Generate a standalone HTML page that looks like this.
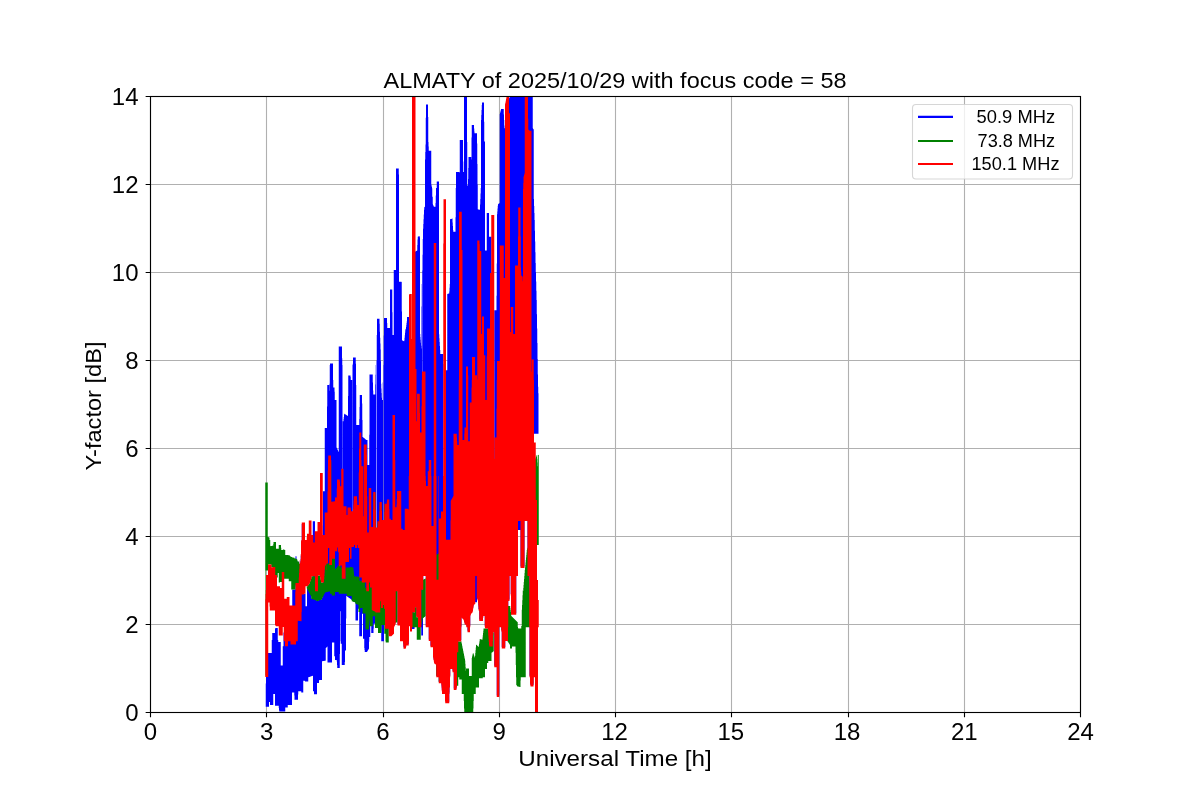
<!DOCTYPE html>
<html><head><meta charset="utf-8"><style>html,body{margin:0;padding:0;background:#fff;overflow:hidden}svg{display:block} text{-webkit-font-smoothing:antialiased}</style></head>
<body><svg width="1200" height="800" viewBox="0 0 1200 800"><rect x="0" y="0" width="1200" height="800" fill="#fff"/><path d="M150.5 96V712M266.5 96V712M383.5 96V712M499.5 96V712M615.5 96V712M731.5 96V712M848.5 96V712M964.5 96V712M1080.5 96V712M150 712.5H1080M150 624.5H1080M150 536.5H1080M150 448.5H1080M150 360.5H1080M150 272.5H1080M150 184.5H1080M150 96.5H1080" stroke="#b0b0b0" stroke-width="1.11" fill="none"/><path d="M265.75 683.4h0.25V706.7h-0.25ZM266 676.9h2V706.7h-2ZM268 653.1h1V706.7h-1ZM269 653.1h1V702h-1ZM270 653.1h1.75V705.1h-1.75ZM271.75 640h0.5V705.1h-0.5ZM272.25 633.1h1V705.1h-1ZM273.25 633.1h1.75V693.9h-1.75ZM275 629.1h0.25V705.8h-0.25ZM275.25 628.1h2.5V705.8h-2.5ZM277.75 640h0.5V705.8h-0.5ZM278.25 641.9h0.5V705.8h-0.5ZM278.75 641.9h0.25V708h-0.25ZM279 641.9h0.25V710.2h-0.25ZM279.25 641.9h1.5V711.4h-1.5ZM280.75 665.6h2V711.4h-2ZM282.75 646.2h0.75V711.4h-0.75ZM283.5 632.5h0.5V711.4h-0.5ZM284 641h1.25V711.4h-1.25ZM285.25 641h2.5V707.6h-2.5ZM287.75 641h4.25V705.1h-4.25ZM292 641h0.25V692.6h-0.25ZM292.25 589.4h2V692.6h-2ZM294.25 589.4h0.25V695.5h-0.25ZM294.5 589.4h1V699.8h-1ZM295.5 556.2h1V699.8h-1ZM296.5 560.5h0.25V699.8h-0.25ZM296.75 560.8h0.25V699.8h-0.25ZM297 561h0.25V699.8h-0.25ZM297.25 561.2h0.25V699.8h-0.25ZM297.5 563.1h0.5V699.8h-0.5ZM298 563.1h0.25V694.4h-0.25ZM298.25 563.1h0.75V691.2h-0.75ZM299 564.8h0.25V691.2h-0.25ZM299.25 565.2h0.5V691.2h-0.5ZM299.75 561.5h0.25V691.2h-0.25ZM300 564.3h0.25V691.2h-0.25ZM300.25 562.4h0.25V691.2h-0.25ZM300.5 560.4h0.25V691.2h-0.25ZM300.75 555.5h0.25V691.2h-0.25ZM301 541.5h0.25V691.2h-0.25ZM301.25 541.5h0.25V692.6h-0.25ZM301.5 542.8h0.25V692.6h-0.25ZM301.75 524h0.25V692.6h-0.25ZM302 593.8h1.25V692.6h-1.25ZM303.25 593.8h0.75V680.7h-0.75ZM304 593.8h0.75V680.8h-0.75ZM304.75 593.8h0.25V680.9h-0.25ZM305 593.8h0.5V681.4h-0.5ZM305.5 606.2h1.5V681.4h-1.5ZM307 587.8h0.25V681.4h-0.25ZM307.25 588.3h0.25V681.4h-0.25ZM307.5 588.8h0.25V681.4h-0.25ZM307.75 589.2h0.25V681.4h-0.25ZM308 589.7h0.25V681.4h-0.25ZM308.25 590h0.25V677.3h-0.25ZM308.5 590h0.25V677.2h-0.25ZM308.75 590h0.25V677.1h-0.25ZM309 590h0.25V677h-0.25ZM309.25 590h0.5V676.9h-0.5ZM309.75 590h0.25V676.8h-0.25ZM310 590h0.25V676.7h-0.25ZM310.25 590h0.25V676.6h-0.25ZM310.5 590h0.25V676.5h-0.25ZM310.75 590h0.25V676.4h-0.25ZM311 590h0.25V676.3h-0.25ZM311.25 595.9h0.25V676.3h-0.25ZM311.5 598.5h0.25V676.2h-0.25ZM311.75 598.6h0.25V676.1h-0.25ZM312 598.7h0.25V676h-0.25ZM312.25 598.7h0.25V675.9h-0.25ZM312.5 598.8h0.25V675.8h-0.25ZM312.75 521.2h0.25V675.8h-0.25ZM313 521.2h1V691.2h-1ZM314 521.2h1V694.2h-1ZM315 599.7h0.25V694.2h-0.25ZM315.25 599.8h0.25V694.2h-0.25ZM315.5 599.9h0.25V694.2h-0.25ZM315.75 600.1h0.25V694.2h-0.25ZM316 600.2h0.25V694.2h-0.25ZM316.25 600.3h0.25V694.2h-0.25ZM316.5 600.4h0.25V694.2h-0.25ZM316.75 600.6h0.25V694.2h-0.25ZM317 600.7h0.25V683.1h-0.25ZM317.25 600.8h0.5V683.1h-0.5ZM317.75 600.7h0.25V683.1h-0.25ZM318 600.6h0.25V683.1h-0.25ZM318.25 600.4h0.25V683.1h-0.25ZM318.5 600.3h0.25V683.1h-0.25ZM318.75 600.2h0.25V683.1h-0.25ZM319 600.1h0.25V680.4h-0.25ZM319.25 599.9h0.25V680.1h-0.25ZM319.5 599.8h0.25V680.1h-0.25ZM319.75 599.7h1.5V680.1h-1.5ZM321.25 599.2h0.25V680.1h-0.25ZM321.5 598.7h0.25V680.1h-0.25ZM321.75 598.2h0.25V680.1h-0.25ZM322 597.7h0.25V661.2h-0.25ZM322.25 597.2h0.25V661.2h-0.25ZM322.5 596.7h0.25V661.2h-0.25ZM322.75 525.6h0.25V661.1h-0.25ZM323 491.2h0.25V661.1h-0.25ZM323.25 491.2h0.5V661h-0.5ZM323.75 491.2h0.75V660.9h-0.75ZM324.5 491.2h0.25V660.8h-0.25ZM324.75 428.1h0.25V660.8h-0.25ZM325 428.1h0.5V660.7h-0.5ZM325.5 428.1h0.25V660.6h-0.25ZM325.75 428.1h0.25V648.1h-0.25ZM326 428.1h0.25V647.9h-0.25ZM326.25 428.1h0.25V647.6h-0.25ZM326.5 428.1h0.25V647.3h-0.25ZM326.75 428.1h0.25V647.1h-0.25ZM327 406.6h0.25V646.8h-0.25ZM327.25 385h0.25V646.5h-0.25ZM327.5 385h1.75V662.5h-1.75ZM329.25 390.8h0.25V662.5h-0.25ZM329.5 383.8h0.25V662.5h-0.25ZM329.75 365h0.25V662.5h-0.25ZM330 363.5h2V662.5h-2ZM332 363.5h1V642.5h-1ZM333 380h0.25V642.5h-0.25ZM333.25 387.5h1V642.5h-1ZM334.25 387.5h0.25V656.2h-0.25ZM334.5 391.7h0.25V656.2h-0.25ZM334.75 400h0.25V656.2h-0.25ZM335 400h1.5V660h-1.5ZM336.5 447.5h0.25V660h-0.25ZM336.75 448.1h0.25V661.6h-0.25ZM337 448.6h0.25V664.9h-0.25ZM337.25 449.2h0.25V668.1h-0.25ZM337.5 449.7h0.25V668.1h-0.25ZM337.75 450.3h0.25V668.1h-0.25ZM338 450.8h0.25V668.1h-0.25ZM338.25 451.4h0.25V668.1h-0.25ZM338.5 451.9h0.25V668.1h-0.25ZM338.75 346.5h1V668.1h-1ZM339.75 346.5h0.25V654.1h-0.25ZM340 346.5h0.25V641.2h-0.25ZM340.25 346.5h0.5V611.2h-0.5ZM340.75 346.5h1V643.8h-1ZM341.75 346.5h0.25V665h-0.25ZM342 358.2h0.25V665h-0.25ZM342.25 470.2h0.25V665h-0.25ZM342.5 365h0.25V665h-0.25ZM342.75 421.2h0.75V665h-0.75ZM343.5 419.1h0.25V665h-0.25ZM343.75 417h0.25V665h-0.25ZM344 414.8h0.25V665h-0.25ZM344.25 413.8h0.5V665h-0.5ZM344.75 414h0.25V662.1h-0.25ZM345 414.2h0.25V650.6h-0.25ZM345.25 414.3h0.25V650.6h-0.25ZM345.5 414.5h0.25V650.6h-0.25ZM345.75 414.7h0.25V650.6h-0.25ZM346 414.8h0.25V618.4h-0.25ZM346.25 415h0.25V595.9h-0.25ZM346.5 415.2h0.25V596.1h-0.25ZM346.75 415.3h0.25V596.3h-0.25ZM347 415.5h0.25V596.5h-0.25ZM347.25 415.7h0.25V596.7h-0.25ZM347.5 415.8h0.25V596.8h-0.25ZM347.75 416h0.25V597h-0.25ZM348 395.9h0.25V597.2h-0.25ZM348.25 375.6h0.25V597.4h-0.25ZM348.5 375.6h0.25V597.6h-0.25ZM348.75 375.6h0.25V597.7h-0.25ZM349 375.6h0.25V597.9h-0.25ZM349.25 375.6h0.25V598.1h-0.25ZM349.5 375.6h0.25V598.3h-0.25ZM349.75 375.6h0.25V598.5h-0.25ZM350 375.6h0.25V598.6h-0.25ZM350.25 375.6h0.25V598.8h-0.25ZM350.5 377.1h0.25V599h-0.25ZM350.75 380h0.25V599.2h-0.25ZM351 380h0.25V599.4h-0.25ZM351.25 380h0.25V599.5h-0.25ZM351.5 380h0.25V599.7h-0.25ZM351.75 380h0.25V599.9h-0.25ZM352 380h0.25V600.1h-0.25ZM352.25 365h0.25V600.3h-0.25ZM352.5 512.8h0.25V600.4h-0.25ZM352.75 363.8h0.25V600.6h-0.25ZM353 357.5h0.25V600.8h-0.25ZM353.25 357.5h0.25V601h-0.25ZM353.5 357.5h0.25V601.2h-0.25ZM353.75 357.5h0.25V601.3h-0.25ZM354 357.5h0.25V601.5h-0.25ZM354.25 357.5h0.25V601.7h-0.25ZM354.5 357.5h0.25V601.9h-0.25ZM354.75 357.5h0.25V602.1h-0.25ZM355 357.5h0.25V602.2h-0.25ZM355.25 357.5h0.25V602.4h-0.25ZM355.5 357.5h0.25V620.6h-0.25ZM355.75 363.8h0.25V620.6h-0.25ZM356 385h0.25V620.6h-0.25ZM356.25 425h1.75V620.6h-1.75ZM358 425h1.25V608.8h-1.25ZM359.25 419h0.25V636.2h-0.25ZM359.5 407h0.25V636.2h-0.25ZM359.75 395h2.25V636.2h-2.25ZM362 403.4h0.25V613.8h-0.25ZM362.25 420.1h0.25V613.8h-0.25ZM362.5 436.9h0.25V613.8h-0.25ZM362.75 437.1h0.25V613.8h-0.25ZM363 437.3h0.25V638.8h-0.25ZM363.25 437.5h0.25V638.8h-0.25ZM363.5 437.7h0.25V638.8h-0.25ZM363.75 437.9h0.25V638.8h-0.25ZM364 438.1h0.25V638.8h-0.25ZM364.25 438.3h0.25V648.1h-0.25ZM364.5 438.5h0.25V650h-0.25ZM364.75 438.8h0.25V651.9h-0.25ZM365 439h0.25V651.9h-0.25ZM365.25 439.2h0.25V651.9h-0.25ZM365.5 439.4h0.25V651.9h-0.25ZM365.75 439.6h0.25V651.9h-0.25ZM366 439.8h0.25V651.9h-0.25ZM366.25 440h0.75V651.9h-0.75ZM367 440h0.25V651.7h-0.25ZM367.25 440h0.25V651.2h-0.25ZM367.5 465h0.25V650.8h-0.25ZM367.75 465h0.25V650.4h-0.25ZM368 465h0.25V650h-0.25ZM368.25 465h0.25V649.6h-0.25ZM368.5 465h0.25V649.2h-0.25ZM368.75 465h0.25V648.8h-0.25ZM369 465h0.25V641.8h-0.25ZM369.25 434.8h0.25V636.9h-0.25ZM369.5 374.4h0.75V636.9h-0.75ZM370.25 374.4h1V608.8h-1ZM371.25 374.4h1.5V633.1h-1.5ZM372.75 382.4h0.25V633.1h-0.25ZM373 390.4h0.25V633.1h-0.25ZM373.25 394.4h0.25V633.1h-0.25ZM373.5 394.4h0.25V628.4h-0.25ZM373.75 394.4h1.5V623.8h-1.5ZM375.25 384.6h0.25V615h-0.25ZM375.5 374.8h0.25V615h-0.25ZM375.75 365h0.25V615h-0.25ZM376 529h0.5V615h-0.5ZM376.5 360.6h0.25V615h-0.25ZM376.75 335h0.25V615h-0.25ZM377 318.8h2.5V615h-2.5ZM379.5 323.8h0.25V615h-0.25ZM379.75 331.7h0.25V615h-0.25ZM380 337.7h0.25V615h-0.25ZM380.25 343.6h0.25V615h-0.25ZM380.5 349.5h0.25V615h-0.25ZM380.75 361.2h0.25V615h-0.25ZM381 383.8h0.25V615h-0.25ZM381.25 388.4h0.25V641.2h-0.25ZM381.5 393h0.25V641.2h-0.25ZM381.75 397.7h0.25V641.2h-0.25ZM382 400h0.75V641.2h-0.75ZM382.75 382.5h0.25V641.2h-0.25ZM383 365h0.25V641.2h-0.25ZM383.25 521.5h0.5V641.2h-0.5ZM383.75 335.4h0.25V641.2h-0.25ZM384 318.1h1V607.2h-1ZM385 318.1h2V627.2h-2ZM387 323.1h0.25V627.2h-0.25ZM387.25 328.1h1.5V627.2h-1.5ZM388.75 328.1h1.25V634.8h-1.25ZM390 289.4h1.5V634.8h-1.5ZM391.5 289.4h0.25V634.5h-0.25ZM391.75 289.4h0.25V634.2h-0.25ZM392 289.4h0.25V634h-0.25ZM392.25 312.2h0.25V633.8h-0.25ZM392.5 335h0.25V633.5h-0.25ZM392.75 335h0.25V633.2h-0.25ZM393 335h0.25V633h-0.25ZM393.25 335h0.25V632.8h-0.25ZM393.5 335h0.25V632.5h-0.25ZM393.75 270h0.25V632.2h-0.25ZM394 270h0.25V625.7h-0.25ZM394.25 270h0.25V625.1h-0.25ZM394.5 270h0.25V624.6h-0.25ZM394.75 270h0.25V624h-0.25ZM395 270h0.25V623.4h-0.25ZM395.25 270h0.25V622.8h-0.25ZM395.5 270h0.25V622.2h-0.25ZM395.75 270h0.25V589.8h-0.25ZM396 168.5h1.5V589.8h-1.5ZM397.5 168.5h1.25V624.1h-1.25ZM398.75 174.5h0.25V624.1h-0.25ZM399 281.8h1V624.1h-1ZM400 281.8h1.5V639.8h-1.5ZM401.5 281.9h0.25V639.8h-0.25ZM401.75 311.6h0.25V639.8h-0.25ZM402 340.3h0.25V639.8h-0.25ZM402.25 340.4h0.25V639.8h-0.25ZM402.5 340.6h0.25V639.8h-0.25ZM402.75 340.7h0.25V639.8h-0.25ZM403 340.8h0.25V641.2h-0.25ZM403.25 340.9h0.25V644.2h-0.25ZM403.5 341.1h0.25V647.2h-0.25ZM403.75 341.2h0.5V647.2h-0.5ZM404.25 340.2h0.25V647.2h-0.25ZM404.5 337.8h0.25V647.2h-0.25ZM404.75 335.2h0.25V647.2h-0.25ZM405 332.8h0.25V647.2h-0.25ZM405.25 330.2h0.25V647.2h-0.25ZM405.5 329h0.25V647.2h-0.25ZM405.75 328.8h0.25V646.6h-0.25ZM406 326.9h0.25V645.4h-0.25ZM406.25 325h0.25V644.1h-0.25ZM406.5 323.1h0.25V644.1h-0.25ZM406.75 321.2h0.25V644.1h-0.25ZM407 317.1h1.75V644.1h-1.75ZM408.75 317.1h0.25V639.8h-0.25ZM409 317.1h0.25V624.8h-0.25ZM411.75 340.5h0.25V629.1h-0.25ZM412 98.5h1.5V629.1h-1.5ZM413.5 617.2h1V629.1h-1ZM414.5 617.2h0.5V627.2h-0.5ZM415 251.8h0.25V610.8h-0.25ZM415.25 251.6h0.25V605.8h-0.25ZM415.5 251.4h0.25V605.8h-0.25ZM415.75 251.3h0.25V605.8h-0.25ZM416 251.1h0.25V605.8h-0.25ZM416.25 251h0.25V615.8h-0.25ZM416.5 250.8h0.25V615.8h-0.25ZM416.75 250.7h0.25V615.8h-0.25ZM417 250.5h0.25V615.8h-0.25ZM417.25 245h0.25V615.8h-0.25ZM417.5 239.5h0.25V615.8h-0.25ZM417.75 236.7h0.25V615.8h-0.25ZM418 236.6h0.25V625.8h-0.25ZM418.25 236.5h0.25V625.8h-0.25ZM418.5 236.4h0.25V625.8h-0.25ZM418.75 236.3h0.25V625.8h-0.25ZM419 236.2h0.25V625.8h-0.25ZM419.25 236.1h0.25V625.8h-0.25ZM419.5 236.5h0.25V625.8h-0.25ZM419.75 237.4h0.25V625.8h-0.25ZM420 334h0.25V625.8h-0.25ZM420.25 336.9h0.25V625.8h-0.25ZM420.5 339.8h0.25V625.8h-0.25ZM420.75 342.8h0.25V627.2h-0.25ZM421 345.7h0.25V627.2h-0.25ZM421.25 348.6h0.25V635.4h-0.25ZM421.5 306.5h0.25V635.4h-0.25ZM421.75 284h0.25V635.4h-0.25ZM422 606.6h0.25V635.4h-0.25ZM422.25 270.5h0.25V635.4h-0.25ZM422.5 254.8h0.25V635.4h-0.25ZM422.75 239h0.25V635.4h-0.25ZM423 228.8h0.25V588.2h-0.25ZM423.25 224h0.25V574.5h-0.25ZM423.5 219.2h0.25V574.5h-0.25ZM423.75 214.5h0.25V574.5h-0.25ZM424 209.8h0.25V574.5h-0.25ZM424.25 207.2h0.25V574.5h-0.25ZM424.5 207h0.25V574.5h-0.25ZM424.75 206.8h0.25V574.5h-0.25ZM425 159.5h0.25V574.5h-0.25ZM425.25 152h0.25V574.5h-0.25ZM425.5 144.5h0.25V574.5h-0.25ZM425.75 117.8h0.25V625.8h-0.25ZM426 104.5h2V625.8h-2ZM428 117h0.25V625.8h-0.25ZM428.25 142h0.25V625.8h-0.25ZM428.5 146.4h0.25V625.8h-0.25ZM428.75 150.8h1.75V639.5h-1.75ZM430.5 150.8h0.75V645.8h-0.75ZM431.25 184.5h0.25V645.8h-0.25ZM431.5 185.8h0.25V645.8h-0.25ZM431.75 187h0.25V645.8h-0.25ZM432 188.2h0.25V645.8h-0.25ZM432.25 196.8h0.5V645.8h-0.5ZM432.75 204.2h0.25V645.8h-0.25ZM433 204.9h0.25V655.8h-0.25ZM433.25 205.5h0.25V657.1h-0.25ZM433.5 206.1h0.25V658.5h-0.25ZM433.75 206.8h0.25V659.9h-0.25ZM434 206.8h0.25V661.3h-0.25ZM434.25 206.8h0.25V662.1h-0.25ZM434.5 206.8h0.25V662.2h-0.25ZM434.75 206.8h0.25V662.4h-0.25ZM435 206.8h0.25V662.6h-0.25ZM435.25 206.8h0.25V662.8h-0.25ZM435.5 203h0.25V662.9h-0.25ZM435.75 195.5h0.25V663.1h-0.25ZM436 188h0.25V663.2h-0.25ZM436.25 188h0.5V675.8h-0.5ZM436.75 181.4h2V675.8h-2ZM438.75 181.4h0.25V681.8h-0.25ZM439 334.2h0.25V681.8h-0.25ZM439.25 338.2h0.25V681.8h-0.25ZM439.5 342.1h0.25V681.8h-0.25ZM439.75 346.1h0.25V681.8h-0.25ZM440 350h0.25V681.8h-0.25ZM440.25 354h1V681.8h-1ZM441.25 354h0.25V683.2h-0.25ZM441.5 354h0.25V686.2h-0.25ZM441.75 354h0.25V689.8h-0.25ZM442 354h1.25V692.4h-1.25ZM443.25 364h0.25V692.4h-0.25ZM446 370.2h1.25V701.8h-1.25ZM447.25 294h0.25V701.8h-0.25ZM447.5 293.9h0.25V701.8h-0.25ZM447.75 293.8h0.5V701.8h-0.5ZM448.25 293.7h0.25V701.8h-0.25ZM448.5 293.6h0.25V701.8h-0.25ZM448.75 293.5h0.25V701.8h-0.25ZM449 293.4h0.25V701.8h-0.25ZM449.25 291.5h0.25V692.4h-0.25ZM449.5 287.8h0.25V686.1h-0.25ZM449.75 284h0.25V686.1h-0.25ZM450 219.2h0.25V675.8h-0.25ZM450.25 219.2h0.25V667.6h-0.25ZM450.5 219.1h0.25V667.6h-0.25ZM450.75 219h0.25V667.6h-0.25ZM451 218.9h0.5V667.6h-0.5ZM451.5 218.8h0.25V667.6h-0.25ZM451.75 218.7h0.25V667.6h-0.25ZM452 218.6h0.5V667.6h-0.5ZM452.5 222.4h0.25V670.8h-0.25ZM452.75 226.1h0.25V670.8h-0.25ZM453 229.9h0.25V670.8h-0.25ZM453.25 231.8h0.5V670.8h-0.5ZM453.75 231.8h1.75V688.6h-1.75ZM455.5 217.2h0.25V688.6h-0.25ZM455.75 188h0.25V688.6h-0.25ZM456 172h0.5V688.6h-0.5ZM456.5 172h0.25V686.9h-0.25ZM456.75 172h0.25V685.1h-0.25ZM457 172h1.25V650.8h-1.25ZM458.25 172h1.25V640.1h-1.25ZM459.5 172.8h0.25V640.1h-0.25ZM459.75 140.1h1.5V640.1h-1.5ZM461.25 140.1h0.25V625.8h-0.25ZM461.5 140.1h0.25V616.1h-0.25ZM461.75 140.1h0.25V616.4h-0.25ZM462 140.1h0.25V616.7h-0.25ZM462.25 140.1h0.25V616.9h-0.25ZM462.5 140.1h0.25V617.2h-0.25ZM462.75 140.1h0.25V617.5h-0.25ZM463 161.4h0.25V617.7h-0.25ZM463.25 172h0.25V618h-0.25ZM463.5 172h0.25V618.2h-0.25ZM463.75 172h0.25V619.2h-0.25ZM464 97h0.25V620.2h-0.25ZM464.25 97h0.25V621.2h-0.25ZM464.5 97h0.25V622.2h-0.25ZM464.75 97h1.5V623.2h-1.5ZM466.25 97h0.75V625.8h-0.75ZM467 142h0.25V625.8h-0.25ZM467.25 186.1h0.25V625.8h-0.25ZM467.5 185.4h0.25V630.8h-0.25ZM467.75 184.8h0.25V630.8h-0.25ZM468 179h0.25V630.8h-0.25ZM468.25 168h0.25V630.8h-0.25ZM468.5 157h1.5V630.8h-1.5ZM470 157h0.25V625.8h-0.25ZM470.25 157h0.25V614.2h-0.25ZM470.5 157h0.25V613.7h-0.25ZM470.75 157h0.25V613.1h-0.25ZM471 157h0.25V612.6h-0.25ZM471.25 159.5h0.25V612h-0.25ZM471.5 137.4h0.25V611.8h-0.25ZM471.75 125.1h0.25V611.5h-0.25ZM472 125.1h0.25V611.2h-0.25ZM472.25 125.1h0.25V611h-0.25ZM472.5 125.1h0.25V610.8h-0.25ZM472.75 125.1h0.25V609.2h-0.25ZM473 125.1h0.25V607.8h-0.25ZM473.25 125.1h0.25V606.2h-0.25ZM473.5 125.1h0.25V604.8h-0.25ZM473.75 125.1h0.25V603.2h-0.25ZM474 128.4h0.25V603.1h-0.25ZM474.25 131.6h0.25V603h-0.25ZM474.5 133.2h0.25V602.9h-0.25ZM474.75 133.2h0.25V602.8h-0.25ZM475 133.2h2V602.2h-2ZM477 143.5h0.25V597.1h-0.25ZM477.25 164h0.25V597.8h-0.25ZM477.5 184.5h0.25V598.5h-0.25ZM477.75 209.3h0.25V599.2h-0.25ZM478 209.4h0.25V601.4h-0.25ZM478.25 209.4h0.25V605.1h-0.25ZM478.5 209.5h0.25V608.9h-0.25ZM478.75 209.6h0.25V609.1h-0.25ZM479 209.6h0.25V609.4h-0.25ZM479.25 209.7h0.25V619.5h-0.25ZM479.5 209.8h0.5V619.5h-0.5ZM480 204.4h0.25V619.5h-0.25ZM480.25 198.9h0.25V619.5h-0.25ZM480.5 193.5h0.25V619.5h-0.25ZM480.75 188h0.25V619.5h-0.25ZM481 120.1h0.25V619.5h-0.25ZM481.25 115.1h0.25V619.5h-0.25ZM481.5 110.1h0.25V619.5h-0.25ZM481.75 105.1h0.25V619.5h-0.25ZM482 102.6h1V619.5h-1ZM483 102.6h0.25V616.5h-0.25ZM483.25 102.6h0.75V614.5h-0.75ZM484 121.7h0.25V614.5h-0.25ZM484.25 141h0.25V614.5h-0.25ZM484.5 141.5h0.25V614.5h-0.25ZM484.75 142h0.25V625.8h-0.25ZM485 250.5h1.75V627h-1.75ZM486.75 213h1.25V627h-1.25ZM488 213h0.25V630.8h-0.25ZM488.25 213h0.25V633.9h-0.25ZM488.5 213h0.25V637.1h-0.25ZM488.75 213h0.25V640.3h-0.25ZM489 236.8h0.25V643.5h-0.25ZM489.25 236.8h2.25V645.1h-2.25ZM494.25 310.2h2.25V665.8h-2.25ZM496.5 295.7h0.25V665.8h-0.25ZM496.75 263.4h0.25V695.5h-0.25ZM497 214.2h0.25V695.5h-0.25ZM497.25 211.4h0.25V695.5h-0.25ZM497.5 208.5h0.25V695.5h-0.25ZM497.75 205.7h0.25V695.5h-0.25ZM498 204.2h0.25V695.5h-0.25ZM498.25 204h0.25V695.5h-0.25ZM498.5 203.8h0.25V695.5h-0.25ZM498.75 203.6h0.25V695.5h-0.25ZM499 203.4h0.25V695.5h-0.25ZM499.25 203.2h0.25V625.8h-0.25ZM499.5 203h0.25V625.8h-0.25ZM499.75 113.9h0.25V625.8h-0.25ZM500 112.9h0.25V625.8h-0.25ZM500.25 111.9h0.25V625.8h-0.25ZM500.5 110.9h0.25V625.8h-0.25ZM500.75 109.9h0.25V625.8h-0.25ZM501 108.9h0.25V625.8h-0.25ZM501.25 108.9h0.5V630.1h-0.5ZM501.75 108.9h2V647h-2ZM503.75 114.4h0.25V647h-0.25ZM504 119.9h0.25V647h-0.25ZM504.25 125.5h0.25V647h-0.25ZM504.5 128.2h0.5V647h-0.5ZM505 116.4h0.25V647h-0.25ZM505.25 104.5h0.25V639.5h-0.25ZM505.5 104.1h0.25V639.5h-0.25ZM505.75 103.7h0.25V639.5h-0.25ZM506 103.2h0.25V639.5h-0.25ZM506.25 102.8h0.25V639.5h-0.25ZM506.5 102.4h0.25V639.5h-0.25ZM506.75 102h0.25V639.5h-0.25ZM507 101.6h0.25V639.5h-0.25ZM507.25 101.2h0.25V639.5h-0.25ZM507.5 100.8h0.25V639.5h-0.25ZM507.75 100.3h0.25V639.5h-0.25ZM508 99.9h0.25V625.8h-0.25ZM508.25 99.5h0.25V599.5h-0.25ZM508.5 99.1h0.25V599.5h-0.25ZM508.75 98.7h0.25V599.5h-0.25ZM509 98.2h0.25V599.5h-0.25ZM509.25 97.8h0.25V599.5h-0.25ZM509.5 97.4h0.25V574.5h-0.25ZM509.75 97h1V574.5h-1ZM510.75 97h0.25V593.9h-0.25ZM511 97h5.25V613.2h-5.25ZM516.25 97h1.75V574.5h-1.75ZM518 97h2.5V530h-2.5ZM520.5 97h4V566.5h-4ZM524.5 97h3V519.5h-3ZM527.5 97h1.75V574.5h-1.75ZM529.25 97h0.25V625.8h-0.25ZM529.5 97h0.5V675.8h-0.5ZM530 97h0.25V681.9h-0.25ZM530.25 97h0.25V683.9h-0.25ZM530.5 97h2.25V684.9h-2.25ZM532.75 128.2h0.25V684.9h-0.25ZM533 128.7h0.25V684.9h-0.25ZM533.25 129.1h0.25V684.9h-0.25ZM533.5 129.5h0.25V433.8h-0.25ZM533.75 199h0.25V433.8h-0.25ZM534 206h0.25V433.8h-0.25ZM534.25 213h0.25V433.8h-0.25ZM534.5 220h0.25V433.8h-0.25ZM534.75 230.8h0.25V433.8h-0.25ZM535 241.5h0.25V433.8h-0.25ZM535.25 252.2h0.25V433.8h-0.25ZM535.5 263h0.25V433.8h-0.25ZM535.75 272.2h0.25V433.8h-0.25ZM536 281.5h0.25V433.8h-0.25ZM536.25 290.8h0.25V433.8h-0.25ZM536.5 300h0.25V433.8h-0.25ZM536.75 314.3h0.25V433.8h-0.25ZM537 328.6h0.25V433.8h-0.25ZM537.25 343.1h0.25V433.8h-0.25ZM537.5 358.9h0.25V433.8h-0.25ZM537.75 374.6h0.25V433.8h-0.25ZM538 386.7h0.25V433.8h-0.25ZM538.25 393.3h0.25V433.8h-0.25Z" fill="#0000ff"/><path d="M265.25 482.5h0.5V675.4h-0.5ZM265.75 482.5h2V570.6h-2ZM267.75 536.9h0.25V570.6h-0.25ZM268 537h0.25V570.6h-0.25ZM268.25 537.1h0.25V564.4h-0.25ZM268.5 537.2h0.25V564.4h-0.25ZM268.75 537.3h0.25V564.4h-0.25ZM269 537.4h0.25V564.4h-0.25ZM269.25 537.5h0.25V564.4h-0.25ZM269.5 540h0.75V564.4h-0.75ZM270.25 546.2h0.25V564.4h-0.25ZM270.5 546.1h0.5V564.4h-0.5ZM271 546h0.25V564.4h-0.25ZM271.25 546h0.25V567.5h-0.25ZM271.5 545.9h0.5V567.5h-0.5ZM272 545.8h0.75V567.5h-0.75ZM272.75 545.7h0.5V566.9h-0.5ZM273.25 544.1h0.25V566.9h-0.25ZM273.5 541.9h1.5V566.9h-1.5ZM275 541.9h0.25V576.3h-0.25ZM275.25 541.9h0.25V576.4h-0.25ZM275.5 541.9h0.25V576.6h-0.25ZM275.75 541.9h0.25V576.7h-0.25ZM276 548.8h0.25V576.8h-0.25ZM276.25 548.8h0.25V577h-0.25ZM276.5 548.8h0.25V577.1h-0.25ZM276.75 548.8h0.25V577.2h-0.25ZM277 548.8h0.25V577.4h-0.25ZM277.25 548.8h0.5V577.5h-0.5ZM277.75 548.8h1V573.1h-1ZM278.75 545h1.25V582.5h-1.25ZM280 545h1V581.9h-1ZM281 547.7h0.25V581.9h-0.25ZM281.25 550h0.75V581.9h-0.75ZM282 550h0.75V571.9h-0.75ZM282.75 549.7h0.25V571.9h-0.25ZM283 549.4h0.5V571.9h-0.5ZM283.5 549.5h0.25V571.9h-0.25ZM283.75 549.6h0.25V571.9h-0.25ZM284 549.7h0.25V578.8h-0.25ZM284.25 549.8h0.5V578.8h-0.5ZM284.75 549.9h0.25V578.8h-0.25ZM285 550h0.25V578.8h-0.25ZM285.25 555h2.75V578.8h-2.75ZM288 555.1h0.25V578.8h-0.25ZM288.25 555.3h0.5V578.8h-0.5ZM288.75 555.3h1V581.2h-1ZM289.75 555.9h0.25V581.2h-0.25ZM290 556.2h0.25V581.2h-0.25ZM290.25 556.4h0.25V581.2h-0.25ZM290.5 556.5h0.25V581.2h-0.25ZM290.75 556.6h0.25V581.2h-0.25ZM291 556.8h0.25V581.2h-0.25ZM291.25 556.9h0.25V589.4h-0.25ZM291.5 557h0.25V589.4h-0.25ZM291.75 557.1h0.25V589.4h-0.25ZM292 557.2h0.25V589.4h-0.25ZM292.25 557.4h0.25V589.4h-0.25ZM292.5 557.5h0.25V589.4h-0.25ZM292.75 557.6h0.25V589.4h-0.25ZM293 557.8h0.25V589.4h-0.25ZM293.25 557.7h0.25V589.4h-0.25ZM293.5 557.6h0.25V589.4h-0.25ZM293.75 557.5h0.5V589.4h-0.5ZM294.25 558.2h0.25V589.4h-0.25ZM294.5 558.3h0.25V589.4h-0.25ZM294.75 558.4h0.5V589.4h-0.5ZM295.25 558.5h0.25V589.4h-0.25ZM295.5 558.6h0.25V586.4h-0.25ZM295.75 558.6h0.25V584.4h-0.25ZM296 558.7h0.25V584.4h-0.25ZM296.25 558.8h0.25V584.4h-0.25ZM296.5 559h0.25V584.4h-0.25ZM296.75 559.2h0.25V584.4h-0.25ZM297 559.5h0.25V584.4h-0.25ZM297.25 559.8h0.25V584.4h-0.25ZM297.5 561.6h1.5V584.4h-1.5ZM299 563.3h0.25V576.2h-0.25ZM299.25 563.8h0.75V576.2h-0.75ZM306.75 586.5h0.25V588.4h-0.25ZM307 586.4h0.25V588.8h-0.25ZM307.25 586.2h0.25V589.3h-0.25ZM307.5 585.9h0.25V589.8h-0.25ZM307.75 585.6h0.25V590.2h-0.25ZM308 585.2h0.25V590.7h-0.25ZM308.25 584.9h0.25V591.1h-0.25ZM308.5 584.6h0.25V591.6h-0.25ZM308.75 584.2h0.25V592.1h-0.25ZM309 583.9h0.25V592.5h-0.25ZM309.25 583.4h0.25V593h-0.25ZM309.5 582.8h0.25V593.5h-0.25ZM309.75 582.1h0.25V593.9h-0.25ZM310 581.4h0.25V594.4h-0.25ZM310.25 580.8h0.25V594.9h-0.25ZM310.5 580.1h0.25V595.3h-0.25ZM310.75 579.4h0.25V595.8h-0.25ZM311 578.8h0.25V596.2h-0.25ZM311.25 576.2h0.25V598.8h-0.25ZM311.5 576.2h0.25V598.9h-0.25ZM311.75 576.2h0.25V599h-0.25ZM312 576.2h0.5V599.1h-0.5ZM312.5 576.2h0.25V599.2h-0.25ZM312.75 576.2h0.25V599.3h-0.25ZM313 576.2h0.25V599.4h-0.25ZM313.25 576.2h0.25V599.5h-0.25ZM313.5 576.2h0.25V599.6h-0.25ZM313.75 576.2h0.5V599.7h-0.5ZM314.25 576.2h0.25V599.8h-0.25ZM314.5 576.2h0.25V599.9h-0.25ZM314.75 576.2h0.25V600h-0.25ZM315 576.2h0.25V600.1h-0.25ZM315.25 578.3h0.25V600.2h-0.25ZM315.5 577.9h0.25V600.4h-0.25ZM315.75 577.6h0.25V600.5h-0.25ZM316 577.3h0.25V600.6h-0.25ZM316.25 576.9h0.25V600.8h-0.25ZM316.5 576.6h0.25V600.9h-0.25ZM316.75 576.3h0.25V601h-0.25ZM317 576h0.25V601.1h-0.25ZM317.25 575.6h0.5V601.2h-0.5ZM317.75 575.6h0.25V601.1h-0.25ZM318 575.6h0.25V601h-0.25ZM318.25 575.6h0.25V600.9h-0.25ZM318.5 575.6h0.25V600.8h-0.25ZM318.75 575.6h0.25V600.6h-0.25ZM319 575.6h0.25V600.5h-0.25ZM319.25 575.6h0.25V600.4h-0.25ZM319.5 575.6h0.25V600.2h-0.25ZM319.75 575.6h0.25V600.1h-0.25ZM320 575.6h0.25V600h-0.25ZM320.25 577h0.25V600h-0.25ZM320.5 578.4h0.25V600h-0.25ZM320.75 579.8h0.25V600h-0.25ZM321 581.1h0.25V600h-0.25ZM321.25 582.5h0.25V600h-0.25ZM321.5 582.5h0.25V599.5h-0.25ZM321.75 582.5h0.25V599h-0.25ZM322 582.5h0.25V598.5h-0.25ZM322.25 582.5h0.25V598h-0.25ZM322.5 582.5h0.25V597.5h-0.25ZM322.75 582.5h0.25V597h-0.25ZM323 582.5h0.25V596.5h-0.25ZM323.25 582.5h0.25V596h-0.25ZM323.5 582.5h0.25V595.5h-0.25ZM323.75 579.2h0.25V595h-0.25ZM324 576h0.25V594.5h-0.25ZM324.25 572.8h0.25V594h-0.25ZM324.5 569.5h0.25V593.5h-0.25ZM324.75 566.2h0.25V593h-0.25ZM325 565.8h0.25V592.5h-0.25ZM325.25 565.2h0.25V592.4h-0.25ZM325.5 564.8h0.25V592.4h-0.25ZM325.75 564.2h0.25V592.3h-0.25ZM326 563.8h0.25V592.2h-0.25ZM326.25 563.7h0.25V592.2h-0.25ZM326.5 563.7h0.25V592.1h-0.25ZM326.75 563.6h0.25V592.1h-0.25ZM327 563.6h0.25V592h-0.25ZM327.25 563.5h0.5V591.9h-0.5ZM327.75 563.5h0.25V591.8h-0.25ZM328 563.4h0.25V591.8h-0.25ZM328.25 563.4h0.25V591.7h-0.25ZM328.5 563.3h0.5V591.6h-0.5ZM329 563.2h0.25V591.5h-0.25ZM329.25 563.2h0.5V591.4h-0.5ZM329.75 563.1h0.25V591.3h-0.25ZM330 556.2h0.25V593.8h-0.25ZM330.25 457.1h0.75V593.8h-0.75ZM331 461.5h0.25V593.8h-0.25ZM331.25 503.3h0.5V593.8h-0.5ZM331.75 503.2h0.75V595.6h-0.75ZM332.5 503.1h0.5V595.6h-0.5ZM333 503h0.75V595.6h-0.75ZM333.75 502.9h0.5V595.6h-0.5ZM334.25 502.8h0.75V595.6h-0.75ZM335 569.1h0.25V591.9h-0.25ZM335.25 568.9h0.25V591.9h-0.25ZM335.5 568.6h0.25V591.9h-0.25ZM335.75 568.4h0.25V591.9h-0.25ZM336 568.1h0.25V591.9h-0.25ZM336.25 567.9h0.25V591.9h-0.25ZM336.5 567.6h0.25V591.9h-0.25ZM336.75 567.4h0.25V591.9h-0.25ZM337 567.1h0.25V591.9h-0.25ZM337.25 566.9h0.25V591.9h-0.25ZM337.5 566.5h0.25V591.9h-0.25ZM337.75 566.1h0.25V591.9h-0.25ZM338 565.8h0.25V591.9h-0.25ZM338.25 565.4h0.25V591.9h-0.25ZM338.5 565h0.25V591.9h-0.25ZM338.75 565h0.25V593.8h-0.25ZM339 565.1h0.25V593.8h-0.25ZM339.25 565.2h0.25V593.8h-0.25ZM339.5 565.4h0.25V593.8h-0.25ZM339.75 565.5h0.25V593.8h-0.25ZM340 565.6h0.25V593.8h-0.25ZM340.25 566h0.25V593.8h-0.25ZM340.5 566.5h0.25V593.8h-0.25ZM340.75 566.9h0.25V593.8h-0.25ZM341 567.3h0.25V593.8h-0.25ZM341.25 567.7h0.25V593.8h-0.25ZM341.5 568.1h0.25V593.8h-0.25ZM341.75 568.5h0.25V593.8h-0.25ZM342 578.8h3.5V593.8h-3.5ZM345.5 567.5h1.25V593.8h-1.25ZM346.75 567.5h3.25V595.9h-3.25ZM350 566.9h0.5V595.9h-0.5ZM350.5 567h0.5V595.9h-0.5ZM351 567.1h0.5V595.9h-0.5ZM351.5 567.2h0.25V595.9h-0.25ZM351.75 567.2h0.25V601.2h-0.25ZM352 567.3h0.25V601.3h-0.25ZM352.25 567.3h0.25V601.4h-0.25ZM352.5 567.4h0.25V601.5h-0.25ZM352.75 567.4h0.25V601.6h-0.25ZM353 567.5h0.25V601.7h-0.25ZM353.25 568.5h0.25V601.8h-0.25ZM353.5 570.5h0.25V601.9h-0.25ZM353.75 572.5h0.25V601.9h-0.25ZM354 575.5h0.25V602h-0.25ZM354.25 576.3h0.25V602.1h-0.25ZM354.5 576.3h0.25V602.2h-0.25ZM354.75 576.3h0.25V602.3h-0.25ZM355 576.4h0.25V602.4h-0.25ZM355.25 576.4h0.25V602.5h-0.25ZM355.5 576.4h0.25V603.8h-0.25ZM355.75 576.4h0.25V603.9h-0.25ZM356 576.5h0.25V604h-0.25ZM356.25 576.5h0.25V604.1h-0.25ZM356.5 576.5h0.25V604.2h-0.25ZM356.75 576.6h0.25V604.3h-0.25ZM357 576.6h0.25V604.4h-0.25ZM357.25 576.6h0.25V604.5h-0.25ZM357.5 576.7h0.25V604.6h-0.25ZM357.75 576.7h0.25V604.7h-0.25ZM358 576.7h0.25V604.8h-0.25ZM358.25 576.7h0.25V604.9h-0.25ZM358.5 576.8h0.75V611.9h-0.75ZM359.25 576.9h0.25V611.9h-0.25ZM359.5 580.6h0.25V611.9h-0.25ZM359.75 580.7h0.5V611.9h-0.5ZM360.25 580.7h0.5V608.1h-0.5ZM360.75 580.8h0.75V608.1h-0.75ZM361.5 580.9h1V608.1h-1ZM362.5 581h0.75V613.4h-0.75ZM363.25 581.1h1V613.4h-1ZM364.25 581.2h1V613.4h-1ZM365.25 588.1h0.25V613.4h-0.25ZM365.5 588.1h0.75V629.4h-0.75ZM366.25 587.7h0.25V629.4h-0.25ZM366.5 587.2h0.25V629.4h-0.25ZM366.75 586.8h0.25V629.4h-0.25ZM367 586.4h0.25V629.4h-0.25ZM367.25 585.9h0.25V629.4h-0.25ZM367.5 585.5h0.25V629.4h-0.25ZM367.75 585.1h0.25V629.4h-0.25ZM368 584.6h0.25V629.4h-0.25ZM368.25 584.2h0.25V629.4h-0.25ZM368.5 583.8h0.25V629.4h-0.25ZM368.75 582.5h0.25V629.4h-0.25ZM369 582.5h0.25V618.8h-0.25ZM369.25 582.5h0.25V621.2h-0.25ZM369.5 582.5h0.25V623.8h-0.25ZM369.75 582.5h0.5V626.2h-0.5ZM370.25 587.5h2.25V626.2h-2.25ZM372.5 528.4h0.25V626.2h-0.25ZM372.75 528.4h0.25V616.2h-0.25ZM373 510.9h0.25V616.2h-0.25ZM373.25 493.4h1.75V616.2h-1.75ZM375 493.4h0.5V628.1h-0.5ZM375.5 511.2h0.25V628.1h-0.25ZM375.75 529h1.75V628.1h-1.75ZM377.5 522.8h0.5V628.1h-0.5ZM378 522.8h1.25V633.1h-1.25ZM379.25 513.1h0.25V633.1h-0.25ZM379.5 503.4h2V633.1h-2ZM381.5 503.4h0.25V625h-0.25ZM381.75 512.4h0.25V625h-0.25ZM382 521.5h2.25V625h-2.25ZM384.25 513.4h0.25V633.8h-0.25ZM384.5 505.2h1V633.8h-1ZM385.5 505.2h0.25V641.2h-0.25ZM385.75 505.2h1V642.5h-1ZM386.75 503.1h0.25V642.5h-0.25ZM387 500.9h1.75V642.5h-1.75ZM395 590h2.5V622.5h-2.5ZM412 612.2h3V627.2h-3ZM415 607.2h1.5V627.2h-1.5ZM416.5 617.2h0.25V627.2h-0.25ZM416.75 617.2h1.5V639.8h-1.5ZM418.25 395.2h1.5V639.8h-1.5ZM419.75 414.6h0.25V639.8h-0.25ZM420 434h0.75V639.8h-0.75ZM421.25 589.8h0.25V627.2h-0.25ZM421.5 589.8h0.25V625.5h-0.25ZM421.75 589.8h0.25V623.8h-0.25ZM422 589.8h0.25V622h-0.25ZM422.25 589.8h0.25V620.2h-0.25ZM422.5 589.8h0.25V618.5h-0.25ZM422.75 589.8h0.25V618.3h-0.25ZM423 579.8h0.25V618.1h-0.25ZM423.25 579.6h0.25V617.9h-0.25ZM423.5 579.5h0.25V617.7h-0.25ZM423.75 579.4h0.25V617.5h-0.25ZM424 579.2h0.25V617.3h-0.25ZM424.25 579.1h0.25V617.1h-0.25ZM424.5 579h0.25V616.9h-0.25ZM424.75 578.8h0.25V616.7h-0.25ZM425 578.7h0.25V616.5h-0.25ZM425.25 578.6h0.25V616.3h-0.25ZM425.5 578.5h0.25V616.1h-0.25ZM436.25 554.8h0.25V675.8h-0.25ZM436.5 554.6h0.25V675.8h-0.25ZM436.75 554.5h0.25V675.8h-0.25ZM437 554.3h0.25V675.8h-0.25ZM437.25 554.2h0.25V675.8h-0.25ZM437.5 554.1h0.25V675.8h-0.25ZM437.75 553.9h0.25V675.8h-0.25ZM438 553.8h0.25V675.8h-0.25ZM438.25 553.6h0.25V675.8h-0.25ZM438.5 553.5h0.25V675.8h-0.25ZM438.75 553.5h0.25V681.8h-0.25ZM456.75 651.2h0.25V685.8h-0.25ZM457 649.1h0.25V685.8h-0.25ZM457.25 646.9h0.25V685.8h-0.25ZM457.5 644.8h0.25V685.8h-0.25ZM457.75 642.7h0.25V685.8h-0.25ZM458 641.6h0.25V685.8h-0.25ZM458.25 641.6h1V677.2h-1ZM459.25 641.6h2.25V679.5h-2.25ZM461.5 642.9h0.25V679.5h-0.25ZM461.75 644.1h0.25V693.9h-0.25ZM462 645.4h0.25V693.9h-0.25ZM462.25 646.6h0.25V693.9h-0.25ZM462.5 647.9h0.25V693.9h-0.25ZM462.75 649.1h0.25V693.9h-0.25ZM463 650.4h0.25V693.9h-0.25ZM463.25 651.6h0.25V693.9h-0.25ZM463.5 652.9h0.25V693.9h-0.25ZM463.75 654.1h0.25V701.1h-0.25ZM464 655.4h0.25V708.4h-0.25ZM464.25 656.6h0.25V712h-0.25ZM464.5 657.9h0.25V712h-0.25ZM464.75 659.1h0.25V712h-0.25ZM465 660.4h0.25V712h-0.25ZM465.25 663.8h0.25V712h-0.25ZM465.5 667.3h0.25V712h-0.25ZM465.75 670.8h0.25V712h-0.25ZM466 668.5h3V712h-3ZM469 676h2.75V712h-2.75ZM471.75 657.9h0.25V712h-0.25ZM472 656.8h0.25V712h-0.25ZM472.25 655.7h0.25V712h-0.25ZM472.5 654.6h0.25V712h-0.25ZM472.75 653.4h0.25V712h-0.25ZM473 652.9h0.25V712h-0.25ZM473.25 653.2h0.25V708.4h-0.25ZM473.5 654h0.25V701.1h-0.25ZM473.75 654.8h0.25V693.9h-0.25ZM474 655.5h0.25V693.9h-0.25ZM474.25 656.2h0.25V693.9h-0.25ZM474.5 657h0.25V693.9h-0.25ZM474.75 657.8h0.25V693.9h-0.25ZM475 655.8h0.25V693.9h-0.25ZM475.25 653h0.25V693.9h-0.25ZM475.5 650.2h0.25V693.9h-0.25ZM475.75 647.5h0.25V687.6h-0.25ZM476 644.8h0.5V687.6h-0.5ZM476.5 645h0.25V687.6h-0.25ZM476.75 645.2h0.25V687.6h-0.25ZM477 645.5h0.25V687.6h-0.25ZM477.25 645.8h0.25V687.6h-0.25ZM477.5 646h0.25V687.6h-0.25ZM477.75 646.2h0.25V687.6h-0.25ZM478 646.5h0.25V687.6h-0.25ZM478.25 646.8h0.25V687.6h-0.25ZM478.5 647h0.25V687.6h-0.25ZM478.75 645.6h0.25V687.6h-0.25ZM479 644h0.25V678.2h-0.25ZM479.25 642.4h0.25V678.2h-0.25ZM479.5 640.8h0.25V678.2h-0.25ZM479.75 639.1h0.5V678.2h-0.5ZM480.25 639.2h0.5V678.2h-0.5ZM480.75 639.3h0.25V678.2h-0.25ZM481 639.4h0.5V678.2h-0.5ZM481.5 639.5h0.25V678.2h-0.25ZM481.75 639.6h0.5V678.2h-0.5ZM482.25 639.7h0.25V678.2h-0.25ZM482.5 637.5h0.25V678.2h-0.25ZM482.75 635.2h0.25V677.2h-0.25ZM483 633h0.25V677.2h-0.25ZM483.25 630.8h0.25V677.2h-0.25ZM483.5 628.5h1.5V677.2h-1.5ZM485 628.5h2V669.1h-2ZM487 628.5h1.25V662.9h-1.25ZM488.25 632.2h3.25V661h-3.25ZM491.5 632.2h0.25V652.8h-0.25ZM491.75 632.2h0.25V652.6h-0.25ZM492 632.2h0.25V652.4h-0.25ZM492.25 632.2h0.25V652.2h-0.25ZM492.5 632.2h0.25V652h-0.25ZM492.75 632.2h0.25V651.8h-0.25ZM493 632.2h0.25V651.6h-0.25ZM493.25 632.2h0.25V651.4h-0.25ZM493.5 632.2h0.25V651.2h-0.25ZM507.5 626.6h0.25V641.4h-0.25ZM507.75 626.6h0.25V641.8h-0.25ZM508 606h0.25V642.1h-0.25ZM508.25 606h0.25V642.5h-0.25ZM508.5 606h0.25V642.9h-0.25ZM508.75 606h0.25V643.2h-0.25ZM509 606h0.25V643.6h-0.25ZM509.25 606h0.25V644h-0.25ZM509.5 606h0.25V644.4h-0.25ZM509.75 606h0.25V644.8h-0.25ZM510 606h0.25V648.5h-0.25ZM510.25 608h0.25V648.5h-0.25ZM510.5 610h0.25V648.5h-0.25ZM510.75 612h0.25V648.5h-0.25ZM511 614h0.25V648.5h-0.25ZM511.25 616h0.25V648.5h-0.25ZM511.5 616.2h0.25V648.5h-0.25ZM511.75 616.5h0.25V648.5h-0.25ZM512 616.8h0.25V646.6h-0.25ZM512.25 617h0.25V646.6h-0.25ZM512.5 617.2h0.25V646.6h-0.25ZM512.75 617.5h0.25V646.6h-0.25ZM513 617.8h0.25V646.6h-0.25ZM513.25 618h0.25V646.6h-0.25ZM513.5 618.2h0.25V646.6h-0.25ZM513.75 618.5h0.25V646.6h-0.25ZM514 618.8h0.25V646.6h-0.25ZM514.25 619h0.25V646.6h-0.25ZM514.5 619.2h0.25V646.6h-0.25ZM514.75 619.5h0.25V646.6h-0.25ZM515 619.8h0.25V646.6h-0.25ZM515.25 620h0.25V646.6h-0.25ZM515.5 620.2h0.25V652.8h-0.25ZM515.75 620.5h0.25V665h-0.25ZM516 620.8h0.25V677.2h-0.25ZM516.25 621h0.25V684.9h-0.25ZM516.5 621.2h0.25V685.2h-0.25ZM516.75 621.5h0.25V685.6h-0.25ZM517 621.8h0.25V686h-0.25ZM517.25 622h0.25V686.4h-0.25ZM517.5 622.2h0.25V686.4h-0.25ZM517.75 627h0.25V686.5h-0.25ZM518 628h0.25V686.5h-0.25ZM518.25 628.5h0.25V686.6h-0.25ZM518.5 628.5h0.5V686.7h-0.5ZM519 628.5h0.5V686.8h-0.5ZM519.5 628.5h0.5V686.9h-0.5ZM520 628.5h0.5V687h-0.5ZM520.5 628.5h0.25V680.6h-0.25ZM520.75 628.5h0.5V677.2h-0.5ZM521.25 626h0.5V677.2h-0.5ZM521.75 609.8h0.25V677.2h-0.25ZM522 605h0.25V677.2h-0.25ZM522.25 600.2h0.25V677.2h-0.25ZM522.5 595.3h0.25V677.2h-0.25ZM522.75 590.5h0.25V677.2h-0.25ZM523 591h0.25V677.2h-0.25ZM523.25 588h0.25V677.2h-0.25ZM523.5 585h0.25V677.2h-0.25ZM523.75 582h0.25V677.2h-0.25ZM524 579h0.25V677.2h-0.25ZM524.25 576h0.25V677.2h-0.25ZM524.5 573h0.25V677.2h-0.25ZM524.75 570h0.25V677.2h-0.25ZM525 567.5h0.25V677.2h-0.25ZM525.25 565h0.25V677.2h-0.25ZM525.5 562.5h0.25V677.2h-0.25ZM525.75 560h0.25V627.2h-0.25ZM526 557.5h0.25V627.2h-0.25ZM526.25 555h0.25V627.2h-0.25ZM526.5 552.5h0.25V627.2h-0.25ZM526.75 550h0.25V627.2h-0.25ZM527 549.4h0.25V627.2h-0.25ZM527.25 548.8h0.25V627.2h-0.25ZM527.5 548.1h0.25V627.2h-0.25ZM527.75 547.5h0.25V627.2h-0.25ZM528 546.9h0.25V627.2h-0.25ZM528.25 546.2h0.25V627.2h-0.25ZM528.5 545.6h0.25V627.2h-0.25ZM528.75 545h0.25V627.2h-0.25ZM529 582h0.25V627.2h-0.25ZM529.25 588h0.25V627.2h-0.25ZM529.5 594h0.25V627.2h-0.25ZM529.75 600h0.25V627.2h-0.25ZM535 459.4h0.25V710.5h-0.25ZM535.25 458.8h0.25V710.5h-0.25ZM535.5 458.1h0.25V545h-0.25ZM535.75 457.5h0.25V545h-0.25ZM536 456.9h0.25V545h-0.25ZM536.25 456.2h0.25V545h-0.25ZM536.5 455.6h0.25V545h-0.25ZM536.75 455h0.5V545h-0.5ZM537.25 458.8h0.25V545h-0.25ZM537.5 462.5h0.25V545h-0.25ZM537.75 466.2h0.25V545h-0.25ZM538 454.8h0.25V545h-0.25ZM538.25 454.9h0.5V545h-0.5Z" fill="#008000"/><path d="M265.25 599.3h0.25V676.9h-0.25ZM265.5 594h0.25V676.9h-0.25ZM265.75 590h0.25V676.9h-0.25ZM266 575h2V676.9h-2ZM268 564.4h0.25V676.9h-0.25ZM268.25 564.4h1.25V602.5h-1.25ZM269.5 564.4h0.25V606.6h-0.25ZM269.75 564.4h1.75V610.6h-1.75ZM271.5 567.5h1V610.6h-1ZM272.5 566.9h2.5V610.6h-2.5ZM275 566.9h0.25V625.1h-0.25ZM275.25 575h0.25V625.4h-0.25ZM275.5 575h0.25V625.7h-0.25ZM275.75 575h0.25V626h-0.25ZM276 575h1V626.2h-1ZM277 586.2h1.75V626.2h-1.75ZM278.75 586.2h1.25V635.6h-1.25ZM280 588.1h1.75V635.6h-1.75ZM281.75 571.9h1V635.6h-1ZM282.75 571.9h1V626.9h-1ZM283.75 571.9h0.5V641.2h-0.5ZM284.25 598.8h0.75V641.2h-0.75ZM285 598.8h1.75V646.2h-1.75ZM286.75 596.9h1.25V646.2h-1.25ZM288 596.9h1.5V641.2h-1.5ZM289.5 605.6h1V641.2h-1ZM290.5 605.6h4.75V644.4h-4.75ZM295.25 592.1h0.25V644.4h-0.25ZM295.5 583.1h0.5V644.4h-0.5ZM296 583.1h1.75V641.2h-1.75ZM297.75 583.1h0.5V620.7h-0.5ZM298.25 583.1h0.5V620.8h-0.5ZM298.75 577.6h0.25V620.9h-0.25ZM299 573h0.25V620.9h-0.25ZM299.25 568.7h0.25V620.9h-0.25ZM299.5 564.3h0.25V621h-0.25ZM299.75 560h0.25V621h-0.25ZM300 562.8h0.25V621.1h-0.25ZM300.25 560.9h0.25V621.1h-0.25ZM300.5 558.9h0.25V621.2h-0.25ZM300.75 554h0.25V621.2h-0.25ZM301 540h0.5V621.2h-0.5ZM301.5 541.2h0.25V611.9h-0.25ZM301.75 522.5h2.25V594.4h-2.25ZM304 522.5h1V593.8h-1ZM305 540h0.5V593.8h-0.5ZM305.5 540h1.25V586.2h-1.25ZM306.75 536.9h0.25V586.2h-0.25ZM307 533.8h0.75V586.2h-0.75ZM307.75 533.8h0.25V585.9h-0.25ZM308 533.8h0.25V585.6h-0.25ZM308.25 533.8h0.25V585.2h-0.25ZM308.5 533.8h0.25V584.9h-0.25ZM308.75 520.6h0.25V584.6h-0.25ZM309 520.6h0.25V584.2h-0.25ZM309.25 520.6h0.25V583.9h-0.25ZM309.5 520.6h0.25V583.4h-0.25ZM309.75 520.6h0.25V582.8h-0.25ZM310 520.6h0.25V582.1h-0.25ZM310.25 520.6h0.25V581.4h-0.25ZM310.5 520.6h0.25V580.8h-0.25ZM310.75 520.6h0.25V580.1h-0.25ZM311 520.6h0.25V579.4h-0.25ZM311.25 520.6h0.25V578.8h-0.25ZM311.5 535h1.75V576.2h-1.75ZM313.25 542.5h1.5V576.2h-1.5ZM314.75 531.2h0.25V576.2h-0.25ZM315 531.2h2.5V591.2h-2.5ZM317.5 521.9h0.5V591.2h-0.5ZM318 521.9h2V575.6h-2ZM320 473.1h0.25V577h-0.25ZM320.25 473.1h0.25V578.4h-0.25ZM320.5 473.1h0.25V579.8h-0.25ZM320.75 473.1h0.25V581.1h-0.25ZM321 473.1h1.75V582.5h-1.75ZM322.75 535h1.25V582.5h-1.25ZM324 535h0.25V579.2h-0.25ZM324.25 535h0.25V576h-0.25ZM324.5 535h0.25V572.8h-0.25ZM324.75 512.5h0.25V569.5h-0.25ZM325 512.5h0.25V566.2h-0.25ZM325.25 512.5h0.25V565.8h-0.25ZM325.5 512.5h0.25V565.2h-0.25ZM325.75 512.5h0.25V564.8h-0.25ZM326 512.5h0.25V564.2h-0.25ZM326.25 512.5h0.25V570h-0.25ZM326.5 512.5h1V563.4h-1ZM327.5 491.5h0.25V563.4h-0.25ZM327.75 470.5h0.25V563.4h-0.25ZM328 460h0.25V548.1h-0.25ZM328.25 455.6h1V548.1h-1ZM329.25 455.6h1.75V565h-1.75ZM331 460h0.25V565h-0.25ZM331.25 501.8h0.75V565h-0.75ZM332 501.7h0.5V558.8h-0.5ZM332.5 501.6h0.5V558.8h-0.5ZM333 501.5h0.75V558.8h-0.75ZM333.75 501.4h0.5V558.8h-0.5ZM334.25 501.3h0.5V558.8h-0.5ZM334.75 501.2h0.25V558.8h-0.25ZM335 497.5h1.75V551.2h-1.75ZM336.75 488.4h0.25V551.2h-0.25ZM337 479.4h0.75V547.5h-0.75ZM337.75 479.4h0.25V551.3h-0.25ZM338 479.4h0.25V551.7h-0.25ZM338.25 479.4h0.25V552.1h-0.25ZM338.5 479.4h0.25V552.5h-0.25ZM338.75 479.4h1V566.2h-1ZM339.75 481.7h0.25V566.2h-0.25ZM340 486.2h0.25V566.2h-0.25ZM340.25 486.2h1V565.6h-1ZM341.25 468.8h0.5V565.6h-0.5ZM341.75 468.8h1.75V578.8h-1.75ZM343.5 506.2h2V578.8h-2ZM345.5 506.2h1V561.9h-1ZM346.5 515h1V561.9h-1ZM347.5 507.5h1.5V561.9h-1.5ZM349 507.5h1V548.1h-1ZM350 507.5h0.75V558.8h-0.75ZM350.75 509.4h0.25V558.8h-0.25ZM351 511.2h0.5V558.8h-0.5ZM351.5 511.2h1.5V546.9h-1.5ZM353 509.1h0.25V546.9h-0.25ZM353.25 504.8h0.25V546.9h-0.25ZM353.5 500.5h0.25V546.9h-0.25ZM353.75 496.2h0.25V546.9h-0.25ZM354 496.2h1V545h-1ZM355 496.2h2V548.1h-2ZM357 500.6h0.25V545h-0.25ZM357.25 505h0.5V545h-0.5ZM357.75 505h1V548.1h-1ZM358.75 472.5h0.25V548.1h-0.25ZM359 448.8h0.25V548.1h-0.25ZM359.25 432.5h2V577.5h-2ZM361.25 460h0.25V577.5h-0.25ZM361.5 466.2h0.25V577.5h-0.25ZM361.75 466.2h1.5V582.5h-1.5ZM363.25 516.2h0.5V582.5h-0.5ZM363.75 444.4h2.5V582.5h-2.5ZM366.25 444.4h0.5V591.2h-0.5ZM366.75 454.7h0.25V591.2h-0.25ZM367 496.2h0.25V591.2h-0.25ZM367.25 532.5h1.5V591.2h-1.5ZM368.75 488.1h0.25V591.2h-0.25ZM369 488.1h1V582.5h-1ZM370 488.1h1.25V587.5h-1.25ZM371.25 526.9h0.5V587.5h-0.5ZM371.75 526.9h0.25V610.1h-0.25ZM372 526.9h0.25V610.2h-0.25ZM372.25 526.9h0.25V610.3h-0.25ZM372.5 526.9h0.25V610.4h-0.25ZM372.75 526.9h0.25V610.6h-0.25ZM373 509.4h0.25V610.7h-0.25ZM373.25 491.9h0.25V610.8h-0.25ZM373.5 491.9h0.25V610.9h-0.25ZM373.75 491.9h0.25V611.1h-0.25ZM374 491.9h0.25V611.2h-0.25ZM374.25 491.9h0.25V611.3h-0.25ZM374.5 491.9h0.25V611.4h-0.25ZM374.75 491.9h0.25V611.6h-0.25ZM375 491.9h0.25V611.7h-0.25ZM375.25 491.9h0.25V611.8h-0.25ZM375.5 509.7h0.25V612.5h-0.25ZM375.75 527.5h1.75V612.5h-1.75ZM377.5 521.2h1.75V612.5h-1.75ZM379.25 511.6h0.25V612.5h-0.25ZM379.5 501.9h0.75V612.5h-0.75ZM380.25 501.9h0.75V601.2h-0.75ZM381 501.9h0.75V608.1h-0.75ZM381.75 510.9h0.25V608.1h-0.25ZM382 520h1V608.1h-1ZM383 520h1V605h-1ZM384 520h0.25V608.8h-0.25ZM384.25 511.9h0.25V608.8h-0.25ZM384.5 503.8h0.5V608.8h-0.5ZM385 503.8h1.75V628.8h-1.75ZM386.75 501.6h0.25V628.8h-0.25ZM387 499.4h1.75V628.8h-1.75ZM388.75 499.4h0.5V636.2h-0.5ZM389.25 509.1h0.25V636.2h-0.25ZM389.5 518.8h1.25V636.2h-1.25ZM390.75 519.4h0.25V636.2h-0.25ZM391 520h0.5V636.2h-0.5ZM391.5 520h0.25V636h-0.25ZM391.75 520h0.25V635.8h-0.25ZM392 520h0.25V635.5h-0.25ZM392.25 520h0.25V635.2h-0.25ZM392.5 415h0.25V635h-0.25ZM392.75 415h0.25V634.8h-0.25ZM393 415h0.25V634.5h-0.25ZM393.25 415h0.25V634.2h-0.25ZM393.5 415h0.25V634h-0.25ZM393.75 415h0.25V633.8h-0.25ZM394 415h0.25V627.2h-0.25ZM394.25 415h0.25V626.6h-0.25ZM394.5 415h0.25V626.1h-0.25ZM394.75 415h0.25V625.5h-0.25ZM395 460h0.25V624.9h-0.25ZM395.25 507.2h0.25V624.3h-0.25ZM395.5 507.2h0.25V623.8h-0.25ZM395.75 507.2h0.75V591.2h-0.75ZM396.5 504.6h0.25V591.2h-0.25ZM396.75 499.1h0.25V591.2h-0.25ZM397 491h0.5V591.2h-0.5ZM397.5 491h2.5V625.6h-2.5ZM400 491h1.25V641.2h-1.25ZM401.25 528.8h1.5V641.2h-1.5ZM402.75 530h0.25V641.2h-0.25ZM403 530h0.25V642.8h-0.25ZM403.25 530h0.25V645.8h-0.25ZM403.5 530h1.25V648.8h-1.25ZM404.75 508.8h1V648.8h-1ZM405.75 508.8h0.25V648.1h-0.25ZM406 508.8h0.25V646.9h-0.25ZM406.25 508.8h1.5V645.6h-1.5ZM407.75 509.1h0.75V645.6h-0.75ZM408.5 476h0.25V645.6h-0.25ZM408.75 510h0.25V641.2h-0.25ZM409 294.4h0.5V626.2h-0.5ZM409.5 294h0.5V626.2h-0.5ZM410 294h1.75V631.6h-1.75ZM411.75 339h0.25V631.6h-0.25ZM412 97h0.5V627.2h-0.5ZM412.5 97h2.75V612.2h-2.75ZM415.25 97h0.25V607.2h-0.25ZM415.5 369h0.75V607.2h-0.75ZM416.25 369h0.25V617.2h-0.25ZM416.5 421.2h0.5V617.2h-0.5ZM417 393.8h1V617.2h-1ZM418 393.8h1.75V627.2h-1.75ZM419.75 413.1h0.25V627.2h-0.25ZM420 432.5h1.25V627.2h-1.25ZM421.25 432.5h0.25V589.8h-0.25ZM421.5 406.2h0.25V589.8h-0.25ZM421.75 380h0.25V589.8h-0.25ZM422 371.5h1.25V589.8h-1.25ZM423.25 371.5h2.25V576h-2.25ZM425.5 476h0.25V576h-0.25ZM425.75 481h0.25V627.2h-0.25ZM426 486h1.75V627.2h-1.75ZM427.75 471.2h1V627.2h-1ZM428.75 460h1.75V641h-1.75ZM430.5 460h0.75V647.2h-0.75ZM431.25 476h0.25V647.2h-0.25ZM431.5 526h1.5V647.2h-1.5ZM433 526h0.25V657.2h-0.25ZM433.25 526h0.25V658.6h-0.25ZM433.5 476h0.25V660h-0.25ZM433.75 243h0.25V661.4h-0.25ZM434 243h0.25V662.8h-0.25ZM434.25 243h0.25V663.6h-0.25ZM434.5 243h0.25V663.8h-0.25ZM434.75 243h0.25V663.9h-0.25ZM435 243h0.25V664.1h-0.25ZM435.25 243h0.25V664.2h-0.25ZM435.5 243h0.25V664.4h-0.25ZM435.75 243h0.25V664.6h-0.25ZM436 243h0.25V664.8h-0.25ZM436.25 476h0.25V677.2h-0.25ZM436.5 579.8h2V677.2h-2ZM438.5 476h0.25V677.2h-0.25ZM438.75 476h0.25V683.2h-0.25ZM439 518.5h2V683.2h-2ZM441 511.6h0.25V683.2h-0.25ZM441.25 511.6h0.25V684.8h-0.25ZM441.5 511.6h0.25V687.8h-0.25ZM441.75 511.6h0.25V691.2h-0.25ZM442 511.6h1V693.9h-1ZM443 476h0.25V693.9h-0.25ZM443.25 243.6h0.25V693.9h-0.25ZM443.5 199.2h1.5V693.9h-1.5ZM445 199.2h0.25V701.4h-0.25ZM445.25 199.2h0.75V703.2h-0.75ZM446 539.8h3.25V703.2h-3.25ZM449.25 539.8h0.25V693.9h-0.25ZM449.5 539.8h0.5V687.6h-0.5ZM450 539.8h0.25V677.2h-0.25ZM450.25 539.8h0.25V669.1h-0.25ZM450.5 520.4h0.25V669.1h-0.25ZM450.75 500.8h0.25V669.1h-0.25ZM451 500.3h0.25V669.1h-0.25ZM451.25 499.8h0.25V669.1h-0.25ZM451.5 499.3h0.25V669.1h-0.25ZM451.75 498.9h0.25V669.1h-0.25ZM452 498.4h0.25V669.1h-0.25ZM452.25 497.9h0.25V669.1h-0.25ZM452.5 497.4h0.25V672.2h-0.25ZM452.75 497h0.25V672.2h-0.25ZM453 496.5h0.25V672.2h-0.25ZM453.25 496h0.25V672.2h-0.25ZM453.5 433.8h0.25V672.2h-0.25ZM453.75 433.8h2.75V690.1h-2.75ZM456.5 433.8h0.25V688.4h-0.25ZM456.75 437.5h0.25V686.6h-0.25ZM457 441.2h0.25V652.2h-0.25ZM457.25 445h1V652.2h-1ZM458.25 445h0.5V641.6h-0.5ZM458.75 380h0.25V641.6h-0.25ZM459 211.8h2.25V641.6h-2.25ZM461.25 211.8h0.25V627.2h-0.25ZM461.5 211.8h0.25V617.6h-0.25ZM461.75 249.9h0.25V617.9h-0.25ZM462 249.9h0.25V618.2h-0.25ZM462.25 249.9h0.25V618.4h-0.25ZM462.5 440h0.25V618.7h-0.25ZM462.75 440h0.25V619h-0.25ZM463 440h0.25V619.2h-0.25ZM463.25 440h0.25V619.5h-0.25ZM463.5 440h0.25V619.8h-0.25ZM463.75 440h0.25V620.8h-0.25ZM464 440h0.25V621.8h-0.25ZM464.25 433.8h0.25V622.8h-0.25ZM464.5 427.5h0.25V623.8h-0.25ZM464.75 427.5h1.25V624.8h-1.25ZM466 366.5h0.25V624.8h-0.25ZM466.25 366.5h1.25V627.2h-1.25ZM467.5 366.5h0.5V632.2h-0.5ZM468 375.2h0.25V632.2h-0.25ZM468.25 441.2h1.5V632.2h-1.5ZM469.75 402.5h0.25V632.2h-0.25ZM470 402.5h0.25V627.2h-0.25ZM470.25 402.5h0.25V615.7h-0.25ZM470.5 402.5h0.25V615.2h-0.25ZM470.75 402.5h0.25V614.6h-0.25ZM471 402.5h0.25V614.1h-0.25ZM471.25 402.5h0.25V613.5h-0.25ZM471.5 387.5h0.25V613.2h-0.25ZM471.75 380h0.25V613h-0.25ZM472 357.1h0.25V612.8h-0.25ZM472.25 357.1h0.25V612.5h-0.25ZM472.5 357.1h0.25V612.2h-0.25ZM472.75 357.1h0.25V610.8h-0.25ZM473 357.1h0.25V609.2h-0.25ZM473.25 357.1h0.25V607.8h-0.25ZM473.5 357.1h0.25V606.2h-0.25ZM473.75 357.1h0.25V604.8h-0.25ZM474 357.1h0.25V604.6h-0.25ZM474.25 357.1h0.25V604.5h-0.25ZM474.5 357.1h0.25V604.4h-0.25ZM474.75 357.1h0.25V604.2h-0.25ZM475 375.2h0.25V604.1h-0.25ZM475.25 375.2h1.5V576h-1.5ZM476.75 375.2h0.25V597.9h-0.25ZM477 379.6h0.25V598.6h-0.25ZM477.25 240.5h0.25V599.3h-0.25ZM477.5 240.5h0.25V600h-0.25ZM477.75 240.5h0.25V600.7h-0.25ZM478 240.5h0.25V602.9h-0.25ZM478.25 240.5h0.25V606.6h-0.25ZM478.5 240.5h0.25V610.4h-0.25ZM478.75 240.5h0.25V610.6h-0.25ZM479 240.5h0.25V610.9h-0.25ZM479.25 240.5h0.25V621h-0.25ZM479.5 244h0.25V621h-0.25ZM479.75 251.1h1.5V621h-1.5ZM481.25 334h0.75V621h-0.75ZM482 316.5h1V621h-1ZM483 316.5h0.25V618h-0.25ZM483.25 316.5h0.75V616h-0.75ZM484 355.2h0.75V616h-0.75ZM484.75 355.2h0.25V627.2h-0.25ZM485 355.2h0.25V628.5h-0.25ZM485.25 400h1.5V628.5h-1.5ZM486.75 356.2h0.25V628.5h-0.25ZM487 328.4h1V628.5h-1ZM488 328.4h0.25V632.2h-0.25ZM488.25 328.4h0.25V635.4h-0.25ZM488.5 328.4h0.25V638.6h-0.25ZM488.75 328.4h0.25V641.8h-0.25ZM489 328.4h0.25V645h-0.25ZM489.25 328.4h0.75V646.6h-0.75ZM490 273h1.25V646.6h-1.25ZM491.25 214.9h1.5V646.6h-1.5ZM492.75 214.9h0.25V640.9h-0.25ZM493 214.9h0.25V635.1h-0.25ZM493.25 214.9h1V632.2h-1ZM494.25 458.8h0.25V667.2h-0.25ZM494.5 437.5h2V667.2h-2ZM496.5 408.8h0.25V667.2h-0.25ZM496.75 380h0.25V697h-0.25ZM497 360.9h2.25V697h-2.25ZM499.25 360.9h0.5V627.2h-0.5ZM499.75 245.5h1.5V627.2h-1.5ZM501.25 245.5h0.5V631.6h-0.5ZM501.75 245.5h2V648.5h-2ZM503.75 278h1.25V648.5h-1.25ZM505 104.5h0.25V648.5h-0.25ZM505.25 103.1h0.25V641h-0.25ZM505.5 101.8h0.25V641h-0.25ZM505.75 100.4h0.25V641h-0.25ZM506 99h0.25V641h-0.25ZM506.25 97.7h0.25V641h-0.25ZM506.5 97h1.5V641h-1.5ZM508 97h0.25V627.2h-0.25ZM508.25 97h0.75V601h-0.75ZM509 113.2h0.5V601h-0.5ZM509.5 113.2h0.5V576h-0.5ZM510 332.1h0.75V576h-0.75ZM510.75 307.1h0.25V595.4h-0.25ZM511 307.1h2.25V614.8h-2.25ZM513.25 334h1.75V614.8h-1.75ZM515 265.5h1.25V614.8h-1.25ZM516.25 265.5h1.75V576h-1.75ZM518 236.4h0.25V521h-0.25ZM518.25 207.4h2.25V521h-2.25ZM520.5 236.4h0.25V568h-0.25ZM520.75 267.5h0.25V568h-0.25ZM521 271.5h0.25V568h-0.25ZM521.25 275.5h0.25V568h-0.25ZM521.5 275.8h0.25V568h-0.25ZM521.75 276h0.25V568h-0.25ZM522 276.2h0.25V568h-0.25ZM522.25 276.5h0.25V568h-0.25ZM522.5 276.8h0.25V568h-0.25ZM522.75 281.2h0.25V568h-0.25ZM523 189h0.25V568h-0.25ZM523.25 183h0.25V568h-0.25ZM523.5 177h0.25V568h-0.25ZM523.75 176.1h0.25V568h-0.25ZM524 175.1h0.25V568h-0.25ZM524.25 174.2h0.25V568h-0.25ZM524.5 173.2h0.25V521h-0.25ZM524.75 97h2.75V521h-2.75ZM527.5 97h0.5V576h-0.5ZM528 118.7h0.25V576h-0.25ZM528.25 129.6h0.25V576h-0.25ZM528.5 129.8h0.25V576h-0.25ZM528.75 130h0.25V576h-0.25ZM529 130.2h0.25V576h-0.25ZM529.25 130.4h0.25V627.2h-0.25ZM529.5 130.6h0.25V677.2h-0.25ZM529.75 130.8h0.25V677.2h-0.25ZM530 130.8h0.25V683.4h-0.25ZM530.25 130.8h0.25V685.4h-0.25ZM530.5 130.8h1V686.4h-1ZM531.5 371.8h0.25V686.4h-0.25ZM531.75 359.6h1.75V686.4h-1.75ZM533.5 359.6h0.25V683.5h-0.25ZM533.75 380h0.25V677.2h-0.25ZM534 442.5h1V677.2h-1ZM535 442.5h0.75V712h-0.75ZM535.75 500h1.25V712h-1.25ZM537 580h1V712h-1ZM538 600h0.75V627.2h-0.75Z" fill="#ff0000"/><rect x="150.5" y="96.5" width="930" height="616" fill="none" stroke="#000" stroke-width="1.11"/><path d="M150.5 712.5v4.86M266.5 712.5v4.86M383.5 712.5v4.86M499.5 712.5v4.86M615.5 712.5v4.86M731.5 712.5v4.86M848.5 712.5v4.86M964.5 712.5v4.86M1080.5 712.5v4.86M150.5 712.5h-4.86M150.5 624.5h-4.86M150.5 536.5h-4.86M150.5 448.5h-4.86M150.5 360.5h-4.86M150.5 272.5h-4.86M150.5 184.5h-4.86M150.5 96.5h-4.86" stroke="#000" stroke-width="1.11" fill="none"/><rect x="912.5" y="104.5" width="160" height="74.5" rx="3.5" fill="#fff" fill-opacity="0.8" stroke="#ccc" stroke-opacity="0.8" stroke-width="1.11"/><path d="M918 116.9H953" stroke="#0000ff" stroke-width="2.08"/><path d="M918 141.0H953" stroke="#008000" stroke-width="2.08"/><path d="M918 164.0H953" stroke="#ff0000" stroke-width="2.08"/><g opacity="0.999"><text x="150.50" y="740" font-family="&quot;Liberation Sans&quot;, sans-serif" font-size="24" text-anchor="middle" fill="#000">0</text><text x="266.75" y="740" font-family="&quot;Liberation Sans&quot;, sans-serif" font-size="24" text-anchor="middle" fill="#000">3</text><text x="383.00" y="740" font-family="&quot;Liberation Sans&quot;, sans-serif" font-size="24" text-anchor="middle" fill="#000">6</text><text x="499.25" y="740" font-family="&quot;Liberation Sans&quot;, sans-serif" font-size="24" text-anchor="middle" fill="#000">9</text><text x="614.50" y="740" font-family="&quot;Liberation Sans&quot;, sans-serif" font-size="24" text-anchor="middle" fill="#000">12</text><text x="730.75" y="740" font-family="&quot;Liberation Sans&quot;, sans-serif" font-size="24" text-anchor="middle" fill="#000">15</text><text x="847.00" y="740" font-family="&quot;Liberation Sans&quot;, sans-serif" font-size="24" text-anchor="middle" fill="#000">18</text><text x="964.25" y="740" font-family="&quot;Liberation Sans&quot;, sans-serif" font-size="24" text-anchor="middle" fill="#000">21</text><text x="1080.50" y="740" font-family="&quot;Liberation Sans&quot;, sans-serif" font-size="24" text-anchor="middle" fill="#000">24</text><text x="138.5" y="721.10" font-family="&quot;Liberation Sans&quot;, sans-serif" font-size="24" text-anchor="end" fill="#000">0</text><text x="138.5" y="633.10" font-family="&quot;Liberation Sans&quot;, sans-serif" font-size="24" text-anchor="end" fill="#000">2</text><text x="138.5" y="545.10" font-family="&quot;Liberation Sans&quot;, sans-serif" font-size="24" text-anchor="end" fill="#000">4</text><text x="138.5" y="457.10" font-family="&quot;Liberation Sans&quot;, sans-serif" font-size="24" text-anchor="end" fill="#000">6</text><text x="138.5" y="369.10" font-family="&quot;Liberation Sans&quot;, sans-serif" font-size="24" text-anchor="end" fill="#000">8</text><text x="138.5" y="281.10" font-family="&quot;Liberation Sans&quot;, sans-serif" font-size="24" text-anchor="end" fill="#000">10</text><text x="138.5" y="193.10" font-family="&quot;Liberation Sans&quot;, sans-serif" font-size="24" text-anchor="end" fill="#000">12</text><text x="138.5" y="105.10" font-family="&quot;Liberation Sans&quot;, sans-serif" font-size="24" text-anchor="end" fill="#000">14</text><text x="615" y="88" font-family="&quot;Liberation Sans&quot;, sans-serif" font-size="22" text-anchor="middle" textLength="463" lengthAdjust="spacingAndGlyphs" fill="#000">ALMATY of 2025/10/29 with focus code = 58</text><text x="615" y="766" font-family="&quot;Liberation Sans&quot;, sans-serif" font-size="22" text-anchor="middle" textLength="193.5" lengthAdjust="spacingAndGlyphs" fill="#000">Universal Time [h]</text><text transform="translate(101,406) rotate(-90)" x="0" y="0" font-family="&quot;Liberation Sans&quot;, sans-serif" font-size="22" text-anchor="middle" textLength="129" lengthAdjust="spacingAndGlyphs" fill="#000">Y-factor [dB]</text><text x="976.6" y="122.9" font-family="&quot;Liberation Sans&quot;, sans-serif" font-size="17.5" textLength="78.5" lengthAdjust="spacingAndGlyphs" fill="#000">50.9 MHz</text><text x="977.6" y="147.0" font-family="&quot;Liberation Sans&quot;, sans-serif" font-size="17.5" textLength="77.5" lengthAdjust="spacingAndGlyphs" fill="#000">73.8 MHz</text><text x="971.5" y="170.0" font-family="&quot;Liberation Sans&quot;, sans-serif" font-size="17.5" textLength="88" lengthAdjust="spacingAndGlyphs" fill="#000">150.1 MHz</text></g></svg></body></html>
